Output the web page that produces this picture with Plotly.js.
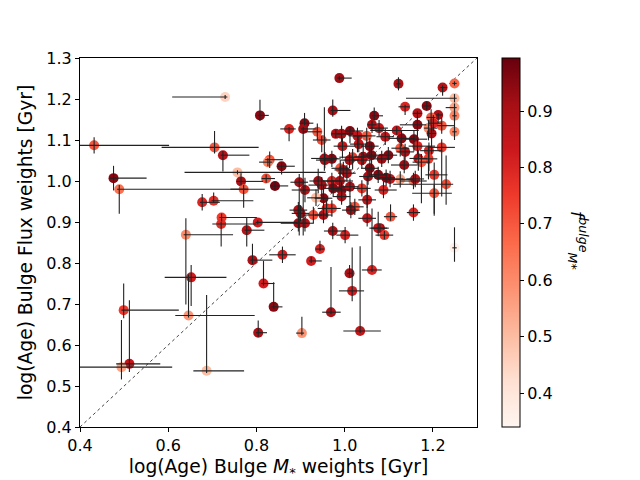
<!DOCTYPE html>
<html>
<head>
<meta charset="utf-8">
<script src="https://cdn.plot.ly/plotly-3.0.1.min.js"></script>
<style>html,body{margin:0;padding:0;background:#fff}#plot{width:640px;height:480px}</style>
</head>
<body>
<div id="plot"></div>
<script>
// log(Age) bulge, mass-weighted (x) and flux-weighted (y), bulge mass fraction (colour)
const ageMass = [
0.729,0.808,0.432,0.705,0.724,0.830,0.826,0.857,0.476,0.489,
0.757,0.765,0.771,0.822,0.842,0.677,0.703,0.721,0.720,0.803,
0.778,0.640,0.791,0.816,0.839,0.804,0.859,0.652,0.499,0.646,
0.512,0.494,0.687,0.944,0.924,1.011,1.062,1.017,0.969,1.035,
0.903,1.249,0.988,0.973,1.067,1.062,0.874,0.909,0.906,0.938,
0.948,0.980,0.993,1.012,1.029,1.050,1.057,0.995,1.032,0.954,
0.971,1.018,1.042,1.061,1.122,1.222,1.249,1.249,1.249,1.249,
1.249,1.137,1.186,1.212,1.196,1.165,1.220,1.190,1.201,1.165,
1.197,1.157,1.129,1.118,1.092,1.078,1.126,1.165,1.191,1.220,
1.137,1.099,1.167,1.190,1.174,1.135,1.203,1.230,1.203,1.156,
1.160,1.126,1.103,1.094,1.088,1.156,1.104,1.080,1.090,1.084,
0.897,0.910,0.940,0.948,0.952,0.935,0.971,0.974,0.989,0.993,
0.993,1.012,1.039,1.023,1.014,1.051,1.051,1.076,0.895,0.900,
0.929,0.952,0.959,0.971,0.895,0.910,0.973,1.001,1.011,0.955,
0.990,0.997,1.005,1.039,1.057,1.053,1.076];
const ageFlux = [
1.205,1.160,1.087,1.082,1.063,1.052,1.046,1.036,1.007,0.980,
1.021,0.999,0.980,1.006,0.988,0.948,0.952,0.911,0.895,0.899,
0.880,0.869,0.807,0.750,0.693,0.630,0.820,0.765,0.685,0.672,
0.554,0.546,0.537,0.834,0.805,0.775,0.783,0.732,0.680,0.634,
0.629,0.837,1.251,1.172,1.159,1.137,1.127,1.141,1.127,1.120,
1.100,1.115,1.115,1.122,1.110,1.110,1.085,1.085,1.090,1.055,
1.054,1.058,1.059,1.063,1.237,1.228,1.238,1.202,1.179,1.159,
1.120,1.181,1.183,1.161,1.155,1.165,1.135,1.129,1.141,1.137,
1.116,1.102,1.104,1.123,1.108,1.129,1.080,1.085,1.074,1.082,
1.071,1.063,1.055,1.054,1.046,1.039,1.015,0.992,0.970,1.000,
1.005,1.004,1.005,1.008,0.978,0.923,0.913,0.885,0.868,1.054,
0.997,0.978,1.000,0.990,0.958,0.959,1.000,0.982,1.000,0.978,
0.962,0.986,0.982,0.937,0.929,0.954,0.909,0.885,0.929,0.921,
0.917,0.917,0.933,0.933,0.897,0.897,0.878,0.868,1.051,1.051,
1.031,1.027,1.019,1.051,1.031,1.011,1.015];
const fBulge = [
0.45,0.95,0.70,0.70,0.88,0.70,0.62,0.95,0.95,0.65,
0.50,0.90,0.70,0.72,0.97,0.80,0.78,0.75,0.78,0.82,
0.88,0.60,0.90,0.82,0.95,0.90,0.82,0.82,0.75,0.58,
0.85,0.55,0.50,0.80,0.82,0.90,0.80,0.82,0.90,0.85,
0.58,0.36,0.92,0.90,0.95,0.90,0.80,0.95,0.92,0.70,
0.72,0.90,0.90,0.95,0.85,0.70,0.95,0.85,0.85,0.90,
0.95,0.75,0.90,0.95,0.90,0.88,0.68,0.50,0.55,0.62,
0.62,0.80,0.95,0.90,0.70,0.88,0.70,0.60,0.80,0.95,
0.90,0.95,0.95,0.85,0.85,0.85,0.70,0.80,0.80,0.75,
0.90,0.95,0.88,0.75,0.70,0.92,0.75,0.72,0.70,0.60,
0.88,0.55,0.85,0.95,0.80,0.80,0.70,0.92,0.75,0.92,
0.90,0.88,0.92,0.90,0.95,0.50,0.80,0.95,0.90,0.95,
0.90,0.90,0.75,0.70,0.92,0.85,0.85,0.85,0.90,0.90,
0.72,0.90,0.80,0.75,0.92,0.88,0.90,0.80,0.90,0.90,
0.70,0.90,0.90,0.85,0.95,0.90,0.95];
const xErrLo = [
.12,.005,.04,.12,.005,.01,.02,.01,.01,.005,
.12,.01,.03,.01,.01,.005,.005,.005,.02,.005,
.005,.005,.005,.005,.005,.005,.03,.06,.005,.03,
.03,.10,.03,.01,.005,.005,.023,.03,.02,.038,
.013,.005,.005,.005,.005,.01,.02,.01,.005,.03,
.02,.01,.01,.01,.02,.03,.02,.02,.02,.03,
.02,.03,.02,.02,.005,.005,.005,.11,.02,.005,
.005,.015,.01,.005,.01,.01,.01,.01,.01,.04,
.01,.02,.03,.06,.02,.02,.02,.02,.02,.03,
.02,.02,.02,.03,.02,.03,.02,.12,.05,.03,
.02,.04,.03,.02,.02,.015,.015,.02,.02,.02,
.02,.03,.02,.03,.02,.02,.02,.02,.03,.02,
.02,.02,.02,.02,.02,.02,.02,.02,.02,.02,
.02,.02,.02,.02,.04,.02,.02,.02,.02,.02,
.02,.02,.02,.02,.02,.02,.02];
const xErrHi = [
.005,.02,.17,.10,.06,.03,.01,.03,.075,.33,
.20,.05,.01,.02,.03,.04,.09,.08,.08,.09,
.04,.107,.045,.025,.02,.02,.03,.08,.125,.15,
.07,.115,.085,.01,.024,.005,.022,.027,.022,.047,
.005,.005,.028,.04,.02,.01,.015,.02,.03,.01,
.02,.04,.01,.03,.02,.02,.02,.03,.02,.03,
.02,.03,.03,.02,.005,.01,.005,.005,.005,.005,
.005,.01,.01,.01,.01,.01,.03,.02,.02,.02,
.01,.03,.03,.05,.02,.02,.02,.04,.03,.03,
.02,.02,.02,.02,.02,.03,.03,.016,.04,.03,
.02,.03,.03,.02,.03,.015,.015,.02,.02,.02,
.02,.03,.02,.02,.02,.02,.02,.02,.03,.02,
.02,.02,.02,.02,.02,.02,.02,.02,.02,.02,
.02,.02,.02,.02,.02,.02,.03,.03,.02,.02,
.02,.02,.02,.02,.02,.02,.02];
const yErrLo = [
.005,.013,.02,.015,.04,.02,.01,.02,.03,.06,
.005,.01,.045,.01,.01,.02,.005,.01,.055,.005,
.04,.17,.01,.005,.005,.01,.02,.07,.02,.005,
.02,.03,.005,.005,.005,.01,.005,.025,.005,.005,
.005,.034,.005,.015,.01,.02,.03,.005,.26,.02,
.03,.01,.02,.03,.04,.02,.03,.03,.02,.03,
.02,.03,.02,.05,.016,.02,.005,.01,.03,.02,
.02,.02,.01,.02,.02,.02,.02,.03,.02,.03,
.05,.03,.02,.01,.02,.02,.02,.02,.05,.12,
.02,.02,.03,.05,.10,.02,.10,.05,.05,.02,
.02,.02,.02,.02,.02,.02,.01,.01,.01,.02,
.13,.03,.03,.03,.03,.02,.03,.02,.02,.03,
.02,.05,.02,.02,.02,.02,.02,.02,.02,.02,
.02,.02,.02,.02,.02,.02,.02,.02,.02,.02,
.02,.02,.02,.02,.02,.02,.02];
const yErrHi = [
.005,.038,.02,.04,.01,.02,.01,.01,.03,.01,
.005,.02,.01,.01,.01,.02,.02,.01,.005,.005,
.03,.04,.04,.055,.06,.03,.02,.03,.065,.10,
.155,.115,.185,.02,.01,.02,.15,.106,.11,.207,
.04,.05,.005,.027,.02,.01,.005,.025,.005,.02,
.01,.01,.02,.01,.02,.02,.02,.02,.02,.125,
.02,.02,.03,.03,.016,.005,.005,.01,.01,.02,
.02,.005,.01,.005,.02,.005,.02,.02,.02,.02,
.02,.02,.02,.01,.02,.02,.02,.03,.02,.02,
.02,.02,.02,.03,.02,.02,.03,.07,.02,.02,
.02,.02,.02,.02,.02,.02,.03,.01,.01,.02,
.02,.03,.03,.02,.03,.02,.02,.02,.02,.02,
.02,.02,.02,.02,.02,.03,.10,.04,.02,.02,
.02,.02,.02,.02,.04,.02,.02,.02,.02,.02,
.02,.02,.02,.02,.02,.02,.02];
const axisRange = [0.4, 1.3];
const xTicks = [0.4, 0.6, 0.8, 1.0, 1.2];
const yTicks = [0.4, 0.5, 0.6, 0.7, 0.8, 0.9, 1.0, 1.1, 1.2, 1.3];
const cbTicks = [0.4, 0.5, 0.6, 0.7, 0.8, 0.9];
const cRange = [0.34, 0.994];

const reds = [
[0.0,'#fff5f0'],[0.125,'#fee0d2'],[0.25,'#fcbba1'],[0.375,'#fc9272'],
[0.5,'#fb6a4a'],[0.625,'#ef3b2c'],[0.75,'#cb181d'],[0.875,'#a50f15'],[1.0,'#67000d']];

const font = {family:'DejaVu Sans, sans-serif', color:'#000'};

const diag = {
  x: axisRange, y: axisRange, mode:'lines', type:'scatter',
  line:{color:'#444', width:1, dash:'dot'}, hoverinfo:'skip', showlegend:false
};
const pts = {
  x: ageMass, y: ageFlux, mode:'markers', type:'scatter', showlegend:false,
  marker:{
    size:10, color:fBulge, colorscale:reds, cmin:cRange[0], cmax:cRange[1],
    line:{width:0},
    colorbar:{
      x:1.063, xanchor:'left', xref:'paper', xpad:0, thickness:18,
      len:1, lenmode:'fraction', y:0.5, yanchor:'middle', ypad:0,
      outlinewidth:1, outlinecolor:'#000',
      tickvals:cbTicks, ticktext:cbTicks.map(v=>v.toFixed(1)),
      ticks:'outside', ticklen:4, tickwidth:1, tickcolor:'#000',
      tickfont:Object.assign({size:16}, font)
    }
  }
};
const errs = {
  x: ageMass, y: ageFlux, mode:'markers', type:'scatter', showlegend:false,
  marker:{size:10, opacity:0}, hoverinfo:'skip',
  error_x:{type:'data', symmetric:false, array:xErrHi, arrayminus:xErrLo, color:'#222', thickness:1.1, width:0},
  error_y:{type:'data', symmetric:false, array:yErrHi, arrayminus:yErrLo, color:'#222', thickness:1.1, width:0}
};

const axisCommon = {
  range: axisRange, showgrid:false, zeroline:false, showline:true, linecolor:'#000', linewidth:1,
  mirror:true, ticks:'outside', ticklen:4, tickwidth:1, tickcolor:'#000',
  tickfont:Object.assign({size:16}, font)
};

const layout = {
  width:640, height:480, paper_bgcolor:'#fff', plot_bgcolor:'#fff',
  margin:{l:80, r:163, t:58, b:53},
  font: font,
  xaxis: Object.assign({}, axisCommon, {
    tickvals:xTicks, ticktext:xTicks.map(v=>v.toFixed(1)),
    title:{text:'log(Age) Bulge <i>M</i><sub>*</sub> weights [Gyr]', font:Object.assign({size:18.7}, font), standoff:8}
  }),
  yaxis: Object.assign({}, axisCommon, {
    tickvals:yTicks, ticktext:yTicks.map(v=>v.toFixed(1)),
    title:{text:'log(Age) Bulge Flux weights [Gyr]', font:Object.assign({size:18.7}, font), standoff:8}
  }),
  annotations:[{
    text:'<i>f</i><sup><i>bulge</i></sup><sub><i>M</i>*</sub>',
    xref:'paper', yref:'paper', x:(578-80)/397, y:(427-240)/369,
    xanchor:'center', yanchor:'middle',
    showarrow:false, textangle:90, font:Object.assign({size:18}, font)
  }]
};

Plotly.newPlot('plot', [diag, pts, errs], layout, {displayModeBar:false, staticPlot:true});
</script>
</body>
</html>
